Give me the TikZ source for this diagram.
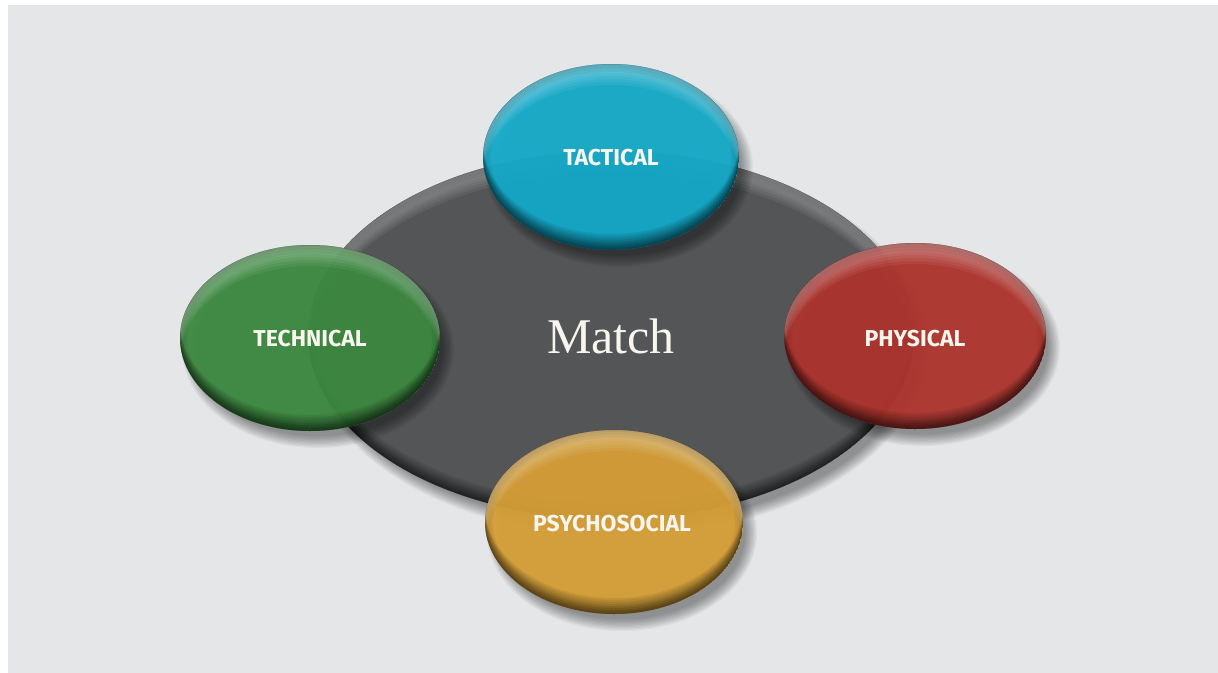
\documentclass[tikz,border=0pt]{standalone}
\usepackage{fontspec}
\newfontfamily\labfont{Fira Sans}
\newfontfamily\hubfont{Liberation Serif}
\definecolor{bg}{HTML}{E5E6E8}
\definecolor{hubgray}{HTML}{545557}
\definecolor{tacc}{HTML}{14ABCA}
\definecolor{tecc}{HTML}{3D8A41}
\definecolor{phyc}{HTML}{B0352F}
\definecolor{psyc}{HTML}{D8A037}
\definecolor{labtext}{HTML}{F7F5EE}
\tikzset{
  lab/.style={text=labtext, font=\labfont\bfseries\fontsize{23}{25}\selectfont},
  hubtext/.style={text=labtext, font=\hubfont\fontsize{50}{54}\selectfont},
}
% #1 cx, #2 cy, #3 rx, #4 ry, #5 colour, #6 body opacity
\newcommand{\glossyell}[6]{%
  \foreach \k in {1,...,10}{
    \fill[black, opacity=0.045] (#1+8,#2+11) ellipse ({#3-7+1.3*\k} and {#4-7+1.3*\k});
  }
  \fill[#5, fill opacity=#6] (#1,#2) ellipse (#3 and #4);
  \begin{scope}
    \clip (#1,#2) ellipse (#3 and #4);
    \foreach \d in {3,6,...,21}{
      \fill[white, opacity=0.06, even odd rule] (#1,#2) ellipse (#3 and #4) (#1,#2+\d) ellipse (#3 and #4);
    }
    \foreach \d in {2,4,...,16}{
      \fill[black, opacity=0.075, even odd rule] (#1,#2) ellipse (#3 and #4) (#1,#2-\d) ellipse (#3 and #4);
    }
    \foreach \d in {2,4,...,8}{
      \fill[black, opacity=0.04, even odd rule] (#1,#2) ellipse (#3 and #4) (#1,#2) ellipse ({#3-\d} and {#4-\d});
    }
  \end{scope}
}
\begin{document}
\begin{tikzpicture}[x=1pt,y=-1pt]
\useasboundingbox (0,0) rectangle (1218,672);
\fill[white] (-10,-10) rectangle (1240,700);
\fill[bg] (8,5) rectangle (1240,700);

% hub
\glossyell{611}{335}{303}{184}{hubgray}{1}
\node[hubtext] (match) at (611,336) {Match};

% satellites
\glossyell{611}{157}{128}{93}{tacc}{0.94}
\node[lab] (tactical) at (611,158) {TACTICAL};

\glossyell{310}{338}{130}{93}{tecc}{0.94}
\node[lab] (technical) at (310,339) {TECHNICAL};

\glossyell{915}{336}{131}{93}{phyc}{0.94}
\node[lab] (physical) at (915,339) {PHYSICAL};

\glossyell{614}{522}{129}{92}{psyc}{0.94}
\node[lab] (psychosocial) at (612,524) {PSYCHOSOCIAL};
\end{tikzpicture}
\end{document}
